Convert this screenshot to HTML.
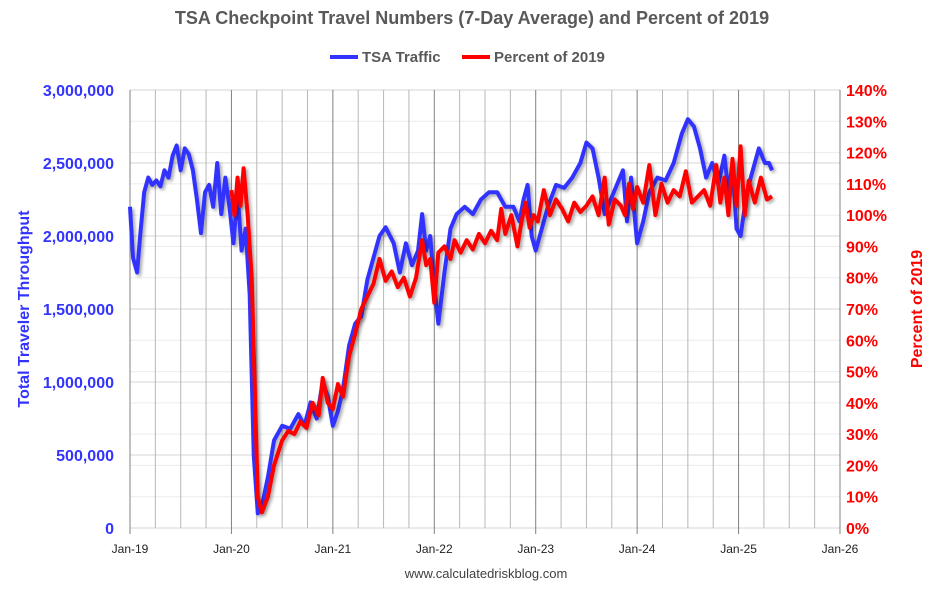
<!DOCTYPE html>
<html><head><meta charset="utf-8"><style>
body{margin:0;background:#fff;}
svg{font-family:"Liberation Sans",Arial,sans-serif;}
</style></head><body>
<svg id="c" width="934" height="589">
<defs><filter id="sh" x="-5%" y="-5%" width="110%" height="110%"><feDropShadow dx="2" dy="2" stdDeviation="1.5" flood-color="#000" flood-opacity="0.35"/></filter></defs>
<text x="472" y="24" text-anchor="middle" font-size="18" font-weight="bold" fill="#595959">TSA Checkpoint Travel Numbers (7-Day Average) and Percent of 2019</text>
<g>
<line x1="330" y1="57" x2="358" y2="57" stroke="#3333FF" stroke-width="4"/>
<text x="362" y="62" font-size="15" font-weight="bold" fill="#595959">TSA Traffic</text>
<line x1="462" y1="57" x2="490" y2="57" stroke="#FF0000" stroke-width="4"/>
<text x="494" y="62" font-size="15" font-weight="bold" fill="#595959">Percent of 2019</text>
</g>
<g id="grid"></g><g id="axes"></g><g id="series"></g>
<text x="486" y="578" text-anchor="middle" font-size="13" fill="#404040">www.calculatedriskblog.com</text>
<text transform="translate(29,309) rotate(-90)" text-anchor="middle" font-size="16" font-weight="bold" fill="#3333FF">Total Traveler Throughput</text>
<text transform="translate(922,309) rotate(-90)" text-anchor="middle" font-size="16" font-weight="bold" fill="#FF0000">Percent of 2019</text>
</svg>
<script>
const xTickLabels=["Jan-19","Jan-20","Jan-21","Jan-22","Jan-23","Jan-24","Jan-25","Jan-26"];
const leftTicks=[0,500000,1000000,1500000,2000000,2500000,3000000];
const rightTicks=[0,10,20,30,40,50,60,70,80,90,100,110,120,130,140];
const tsaDates=[2019.0,2019.03,2019.07,2019.1,2019.14,2019.18,2019.22,2019.26,2019.3,2019.34,2019.38,2019.42,2019.46,2019.5,2019.54,2019.58,2019.62,2019.66,2019.7,2019.74,2019.78,2019.82,2019.86,2019.9,2019.94,2019.98,2020.02,2020.06,2020.1,2020.14,2020.18,2020.22,2020.26,2020.3,2020.36,2020.42,2020.5,2020.58,2020.66,2020.72,2020.78,2020.84,2020.9,2020.95,2021.0,2021.05,2021.1,2021.16,2021.22,2021.28,2021.34,2021.4,2021.46,2021.52,2021.6,2021.66,2021.72,2021.78,2021.84,2021.88,2021.92,2021.96,2022.0,2022.04,2022.1,2022.16,2022.22,2022.3,2022.38,2022.46,2022.54,2022.62,2022.7,2022.78,2022.84,2022.88,2022.92,2022.96,2023.0,2023.06,2023.12,2023.2,2023.28,2023.36,2023.44,2023.5,2023.56,2023.62,2023.68,2023.74,2023.8,2023.86,2023.9,2023.94,2024.0,2024.06,2024.12,2024.2,2024.28,2024.36,2024.44,2024.5,2024.56,2024.62,2024.68,2024.74,2024.8,2024.86,2024.9,2024.94,2024.98,2025.02,2025.08,2025.14,2025.2,2025.26,2025.3,2025.33];
const tsaValues=[2200000,1850000,1750000,2000000,2300000,2400000,2350000,2380000,2340000,2450000,2400000,2550000,2620000,2450000,2600000,2560000,2450000,2250000,2020000,2300000,2350000,2200000,2500000,2150000,2400000,2200000,1950000,2300000,1900000,2050000,1600000,500000,100000,150000,350000,600000,700000,680000,780000,700000,860000,750000,1000000,900000,700000,800000,950000,1250000,1400000,1450000,1700000,1850000,2000000,2060000,1950000,1750000,1950000,1800000,1900000,2150000,1900000,2000000,1650000,1400000,1750000,2050000,2150000,2200000,2150000,2250000,2300000,2300000,2200000,2200000,2100000,2250000,2350000,2000000,1900000,2050000,2200000,2350000,2330000,2400000,2500000,2640000,2600000,2400000,2150000,2250000,2350000,2450000,2100000,2400000,1950000,2100000,2300000,2400000,2380000,2500000,2700000,2800000,2750000,2600000,2400000,2500000,2350000,2550000,2300000,2500000,2050000,2000000,2300000,2450000,2600000,2500000,2500000,2450000];
const pctDates=[2020.0,2020.03,2020.06,2020.09,2020.12,2020.16,2020.2,2020.26,2020.3,2020.36,2020.42,2020.5,2020.56,2020.62,2020.68,2020.74,2020.8,2020.86,2020.9,2020.95,2021.0,2021.05,2021.1,2021.16,2021.22,2021.28,2021.34,2021.4,2021.46,2021.52,2021.58,2021.64,2021.7,2021.76,2021.82,2021.88,2021.92,2021.96,2022.0,2022.04,2022.1,2022.16,2022.2,2022.26,2022.32,2022.38,2022.44,2022.5,2022.56,2022.62,2022.66,2022.7,2022.76,2022.82,2022.86,2022.9,2022.94,2022.98,2023.02,2023.08,2023.14,2023.2,2023.26,2023.32,2023.38,2023.44,2023.5,2023.56,2023.62,2023.68,2023.72,2023.78,2023.84,2023.88,2023.92,2023.96,2024.0,2024.06,2024.12,2024.18,2024.24,2024.3,2024.36,2024.42,2024.48,2024.54,2024.6,2024.66,2024.72,2024.78,2024.82,2024.86,2024.9,2024.94,2024.98,2025.02,2025.06,2025.1,2025.16,2025.22,2025.28,2025.33];
const pctValues=[108,100,112,103,115,100,80,10,5,10,20,28,31,30,34,32,40,36,48,40,38,46,42,55,62,70,74,78,86,79,82,77,80,74,80,92,84,86,72,88,90,86,92,88,92,89,94,91,95,92,102,94,100,90,98,104,96,100,98,108,100,105,102,98,104,101,103,106,100,112,97,105,103,100,110,102,109,104,116,100,110,104,108,106,114,104,106,108,103,116,104,112,100,118,103,122,100,111,104,112,105,106];
const NS="http://www.w3.org/2000/svg";
const X0=130,X1=840,Y0=528,Y1=90;
const xs=d=>X0+(d-2019)*(X1-X0)/7;
const yl=v=>Y0-v/3000000*(Y0-Y1);
const yr=p=>Y0-p/140*(Y0-Y1);
function mk(tag,parent,attrs){const e=document.createElementNS(NS,tag);for(const k in attrs)e.setAttribute(k,attrs[k]);parent.appendChild(e);return e;}
const grid=document.getElementById('grid'),axes=document.getElementById('axes'),ser=document.getElementById('series');
rightTicks.forEach(p=>{const l=mk('line',grid,{x1:X0,x2:X1,y1:yr(p),y2:yr(p),stroke:'#ececec','stroke-width':1});

});
leftTicks.forEach(v=>{const l=mk('line',grid,{x1:X0,x2:X1,y1:yl(v),y2:yl(v),stroke:'#d4d4d4','stroke-width':1});

});
for(let q=0;q<=28;q++){const x=xs(2019+q/4);const yr4=q%4===0;
const l=mk('line',grid,{x1:x,x2:x,y1:Y1,y2:Y0+(yr4?6:0),stroke:yr4?'#808080':'#b8b8b8','stroke-width':1});

}
xTickLabels.forEach((t,i)=>{const e=mk('text',axes,{x:xs(2019+i),y:553,'text-anchor':'middle','font-size':12,fill:'#222'});e.textContent=t;

});
leftTicks.forEach(v=>{const e=mk('text',axes,{x:114,y:yl(v)+6,'text-anchor':'end','font-size':16,'font-weight':'bold',fill:'#3333FF'});e.textContent=v===0?'0':v.toLocaleString('en-US');

});
rightTicks.forEach(p=>{const e=mk('text',axes,{x:846,y:yr(p)+6,'font-size':16,'font-weight':'bold',fill:'#FF0000'});e.textContent=p+'%';

});
const b=mk('polyline',ser,{points:tsaDates.map((d,i)=>xs(d)+','+yl(tsaValues[i])).join(' '),fill:'none',stroke:'#3333FF','stroke-width':4,'stroke-linejoin':'round',filter:'url(#sh)'});


const r=mk('polyline',ser,{points:pctDates.map((d,i)=>xs(d)+','+yr(pctValues[i])).join(' '),fill:'none',stroke:'#FF0000','stroke-width':4,'stroke-linejoin':'round',filter:'url(#sh)'});


</script>
</body></html>
